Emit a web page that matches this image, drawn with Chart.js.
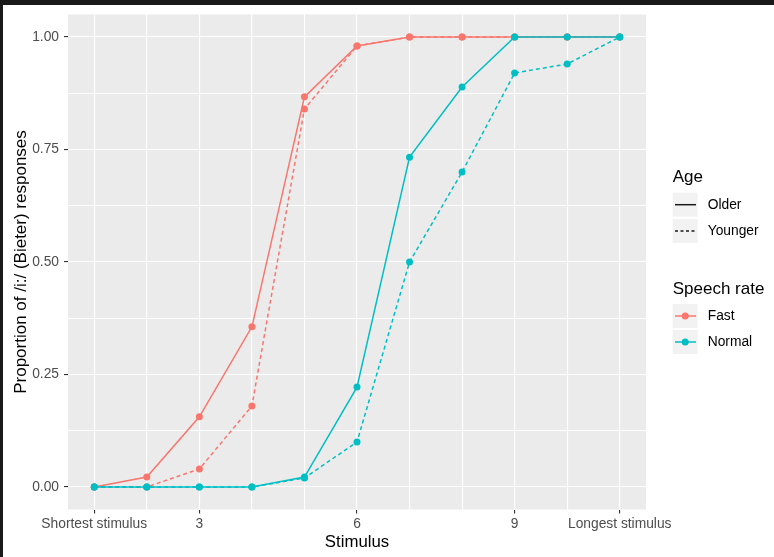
<!DOCTYPE html>
<html lang="en">
<head>
  <meta charset="UTF-8" />
  <title>Stimulus responses</title>
  <script src="https://cdn.jsdelivr.net/npm/chart.js"></script>
  <style>
    body { margin: 0; background: #1a1a1a; }
    #wrap { position: absolute; left: 3px; top: 5px; width: 771px; height: 552px; background: #fff; }
    canvas { display: block; }
  </style>
</head>
<body>
  <div id="wrap"><canvas id="chart" width="771" height="552"></canvas></div>

  <script>
    // data
    const stimulus = [1, 2, 3, 4, 5, 6, 7, 8, 9, 10, 11];
    const fastOlder    = [0, 0.022, 0.156, 0.356, 0.867, 0.98, 1, 1, 1, 1, 1];
    const fastYounger  = [0, 0, 0.04, 0.18, 0.84, 0.98, 1, 1, 1, 1, 1];
    const normalOlder  = [0, 0, 0, 0, 0.022, 0.222, 0.733, 0.889, 1, 1, 1];
    const normalYounger = [0, 0, 0, 0, 0.02, 0.10, 0.50, 0.70, 0.92, 0.94, 1];

    const xTickValues = [1, 3, 6, 9, 11];
    const xTickLabels = ['Shortest stimulus', '3', '6', '9', 'Longest stimulus'];
    const yTickValues = [0, 0.25, 0.5, 0.75, 1];
    const yTickLabels = ['0.00', '0.25', '0.50', '0.75', '1.00'];
    const yMinorValues = [0.125, 0.375, 0.625, 0.875];

    const ageLabels = ['Older', 'Younger'];
    const rateLabels = ['Fast', 'Normal'];

    const RED = '#F8766D';
    const TEAL = '#00BFC4';
    const FONT = '"Liberation Sans", Arial, sans-serif';

    const pts = vals => stimulus.map((s, i) => ({ x: s, y: vals[i] }));

    function series(vals, color, dashed) {
      return {
        data: pts(vals),
        borderColor: color,
        backgroundColor: color,
        borderWidth: 1.5,
        borderDash: dashed ? [4, 3] : [],
        pointRadius: 3.5,
        pointBorderWidth: 0,
        pointBackgroundColor: color,
        tension: 0
      };
    }

    // grey panel behind the grid
    const panelBg = {
      id: 'panelBg',
      beforeDraw(chart) {
        const { ctx, chartArea: a } = chart;
        ctx.save();
        ctx.fillStyle = '#EBEBEB';
        ctx.fillRect(a.left, a.top, a.right - a.left, a.bottom - a.top);
        ctx.restore();
      }
    };

    // ggplot-like two-part legend
    const ggLegend = {
      id: 'ggLegend',
      afterDraw(chart) {
        const { ctx, chartArea: a } = chart;
        const x0 = a.right + 26.7;
        const keyW = 25, keyH = 24;
        ctx.save();

        function key(y, color, dash, dot, label) {
          ctx.fillStyle = '#F2F2F2';
          ctx.fillRect(x0, y, keyW, keyH);
          ctx.strokeStyle = color;
          ctx.lineWidth = 1.5;
          ctx.setLineDash(dash);
          ctx.beginPath();
          ctx.moveTo(x0 + 2.3, y + keyH / 2);
          ctx.lineTo(x0 + 23.3, y + keyH / 2);
          ctx.stroke();
          ctx.setLineDash([]);
          if (dot) {
            ctx.fillStyle = color;
            ctx.beginPath();
            ctx.arc(x0 + keyW / 2, y + keyH / 2, 3.5, 0, Math.PI * 2);
            ctx.fill();
          }
          ctx.fillStyle = '#000';
          ctx.font = '13.8px ' + FONT;
          ctx.textBaseline = 'middle';
          ctx.fillText(label, x0 + 35, y + keyH / 2);
        }

        function title(text, y) {
          ctx.fillStyle = '#000';
          ctx.font = '17px ' + FONT;
          ctx.textBaseline = 'alphabetic';
          ctx.fillText(text, x0, y);
        }

        title('Age', 176.7);
        key(187.7, '#1a1a1a', [], false, ageLabels[0]);
        key(214, '#1a1a1a', [3, 2.5], false, ageLabels[1]);

        title('Speech rate', 289);
        key(299, RED, [], true, rateLabels[0]);
        key(325, TEAL, [], true, rateLabels[1]);

        ctx.restore();
      }
    };

    new Chart(document.getElementById('chart'), {
      type: 'line',
      data: {
        datasets: [
          series(normalOlder, TEAL, false),
          series(normalYounger, TEAL, true),
          series(fastOlder, RED, false),
          series(fastYounger, RED, true)
        ]
      },
      options: {
        responsive: false,
        animation: false,
        layout: { padding: { top: 9.5, right: 128, bottom: 0, left: 0 } },
        plugins: { legend: { display: false }, tooltip: { enabled: false } },
        scales: {
          x: {
            type: 'linear',
            min: 0.5,
            max: 11.5,
            afterBuildTicks: axis => { axis.ticks = stimulus.map(v => ({ value: v })); },
            afterFit: axis => { axis.height = 47.5; },
            border: { display: false },
            grid: {
              color: '#FFFFFF',
              lineWidth: 1.1,
              tickLength: 4,
              tickWidth: 1.1,
              tickColor: c => xTickValues.includes(c.tick.value) ? '#333333' : 'rgba(0,0,0,0)'
            },
            ticks: {
              autoSkip: false,
              maxRotation: 0,
              padding: 2,
              color: '#4D4D4D',
              font: { family: FONT, size: 13.8 },
              callback: v => {
                const i = xTickValues.indexOf(v);
                return i >= 0 ? xTickLabels[i] : '';
              }
            },
            title: {
              display: true,
              text: 'Stimulus',
              color: '#000',
              font: { family: FONT, size: 16.8 },
              padding: { top: 0, bottom: 5 }
            }
          },
          y: {
            min: -0.05,
            max: 1.05,
            afterBuildTicks: axis => {
              axis.ticks = yTickValues.concat(yMinorValues).sort((a, b) => a - b).map(v => ({ value: v }));
            },
            afterFit: axis => {
              axis.width = 65;
              axis.paddingTop = 0;
              axis.paddingBottom = 0;
            },
            border: { display: false },
            grid: {
              color: '#FFFFFF',
              lineWidth: 1.1,
              tickLength: 4,
              tickWidth: 1.1,
              tickColor: c => yTickValues.includes(c.tick.value) ? '#333333' : 'rgba(0,0,0,0)'
            },
            ticks: {
              padding: 5,
              color: '#4D4D4D',
              font: { family: FONT, size: 13.8 },
              callback: v => {
                const i = yTickValues.indexOf(v);
                return i >= 0 ? yTickLabels[i] : '';
              }
            },
            title: {
              display: true,
              text: 'Proportion of /i:/ (Bieter) responses',
              color: '#000',
              font: { family: FONT, size: 17 },
              padding: { top: 8, bottom: 0 }
            }
          }
        }
      },
      plugins: [panelBg, ggLegend]
    });
  </script>
</body>
</html>
